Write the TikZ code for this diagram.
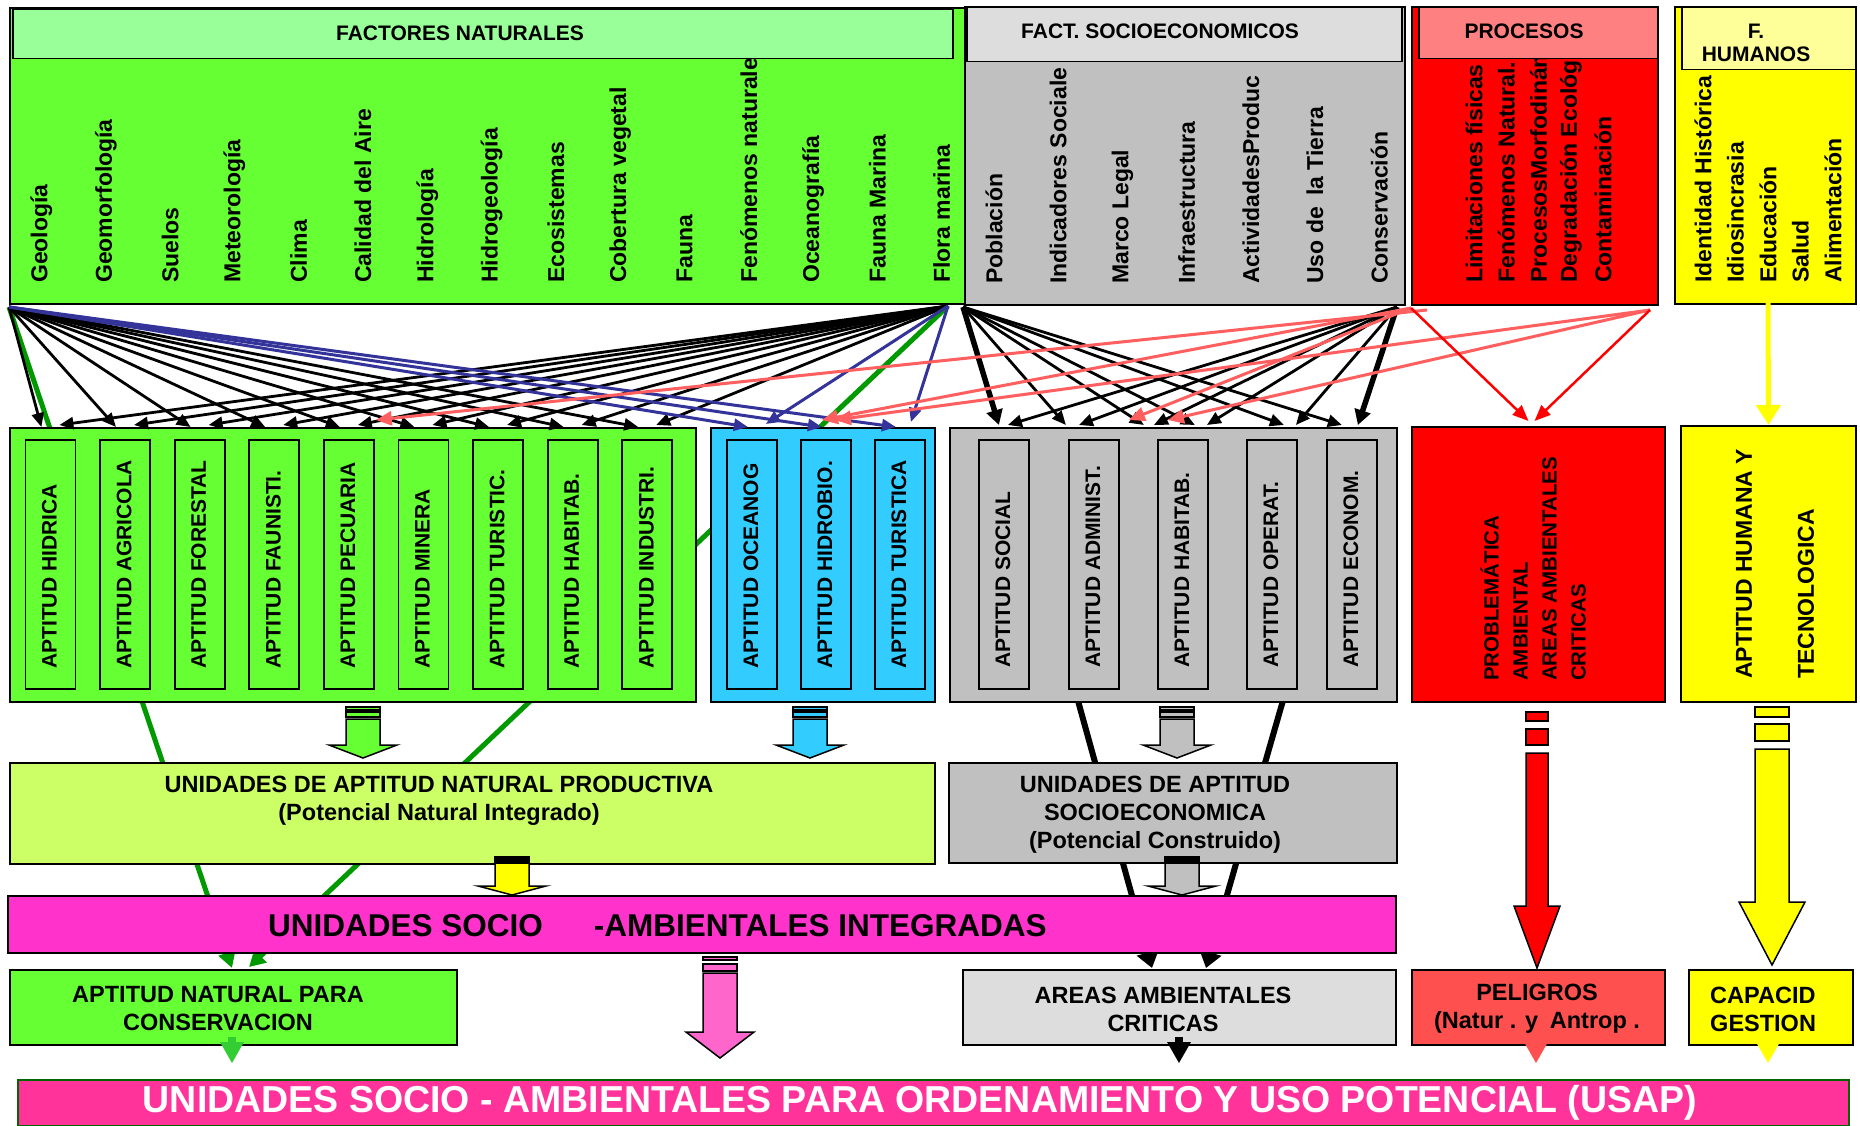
\documentclass[tikz,border=0pt]{standalone}
\usepackage{fontspec}
\setmainfont{Liberation Sans}
\usetikzlibrary{arrows.meta}

\definecolor{natgreen}{HTML}{66FF33}
\definecolor{natlight}{HTML}{99FF99}
\definecolor{socgrey}{HTML}{C0C0C0}
\definecolor{soclight}{HTML}{DDDDDD}
\definecolor{procred}{HTML}{FF0000}
\definecolor{proclight}{HTML}{FF8080}
\definecolor{humyellow}{HTML}{FFFF00}
\definecolor{humlight}{HTML}{FFFF99}
\definecolor{marblue}{HTML}{33CCFF}
\definecolor{unilight}{HTML}{CCFF66}
\definecolor{bandpink}{HTML}{FF33CC}
\definecolor{usappink}{HTML}{FF3399}
\definecolor{peligro}{HTML}{FF5050}
\definecolor{arrowpink}{HTML}{FF66CC}
\definecolor{navy}{HTML}{333399}
\definecolor{linegreen}{HTML}{009900}
\definecolor{tipgreen}{HTML}{33CC33}
\definecolor{salmon}{HTML}{FF5F5F}
\definecolor{usapline}{HTML}{006600}

\tikzset{
  box/.style={draw=black, line width=2pt, anchor=north west, inner sep=0pt},
  headbox/.style={draw=black, line width=1.5pt, anchor=north west, inner sep=0pt},
  inbox/.style={draw=black, line width=1.8pt, anchor=north west, inner sep=0pt, minimum width=50pt, minimum height=249pt},
  factor/.style={rotate=90, anchor=west, inner sep=0pt, font=\fontsize{23}{26}\selectfont\bfseries},
  aptlabel/.style={rotate=90, anchor=west, inner sep=0pt, font=\fontsize{21}{24}\selectfont\bfseries},
  headtext/.style={inner sep=0pt, align=center, font=\fontsize{21}{23}\selectfont\bfseries},
  boxtext/.style={inner sep=0pt, align=center, font=\fontsize{23.5}{28}\selectfont\bfseries},
  conn/.style={line width=2.8pt, -{Triangle[length=14pt,width=12pt]}},
  blockline/.style={draw=black, line width=1.5pt}
}

\begin{document}
\begin{tikzpicture}[x=1pt, y=-1pt]
  \useasboundingbox (0,0) rectangle (1860,1126);
  \fill[white] (0,0) rectangle (1860,1126);

  % start and end points of the long connectors
  \coordinate (natL) at (9,307);
  \coordinate (natR) at (948,306);
  \coordinate (socL) at (963,307);
  \coordinate (socR) at (1397,307);
  \coordinate (procA) at (1411,308);
  \coordinate (procB) at (1427,310);
  \coordinate (procC) at (1650,310);
  \coordinate (humB) at (1768,303);
  \coordinate (consL) at (232,968);
  \coordinate (consR) at (249,967);
  \coordinate (socA) at (1075,690);
  \coordinate (socB) at (1286,690);
  \coordinate (areaL) at (1152,968);
  \coordinate (areaR) at (1206,968);

  % long lines behind the boxes
  \draw[linegreen, line width=5pt, -{Triangle[length=16pt,width=17pt]}] (natL) -- (consL);
  \draw[linegreen, line width=5pt, -{Triangle[length=16pt,width=17pt]}] (natR) -- (consR);
  \draw[black, line width=6pt, -{Triangle[length=16pt,width=22pt]}] (socA) -- (areaL);
  \draw[black, line width=6pt, -{Triangle[length=16pt,width=22pt]}] (socB) -- (areaR);

  % factor panels
  \node[box, fill=natgreen, minimum width=955pt, minimum height=296pt] (natural) at (9,7) {};
  \node[box, fill=socgrey, minimum width=440pt, minimum height=298pt] (social) at (964,6) {};
  \node[box, fill=procred, minimum width=246pt, minimum height=298pt] (procesos) at (1411,6) {};
  \node[box, fill=humyellow, minimum width=181pt, minimum height=297pt] (humanos) at (1674,6) {};

  \foreach \name [count=\i from 0] in {Geología, Geomorfología, Suelos, Meteorología, Clima, Calidad del Aire, Hidrología, Hidrogeología, Ecosistemas, Cobertura vegetal, Fauna, Fenómenos naturale, Oceanografía, Fauna Marina, Flora marina}
    \node[factor] (fn\i) at (41.5+64.3*\i, 283) {\name};
  \foreach \name [count=\i from 0] in {Población, Indicadores Sociale, Marco Legal, Infraestructura, ActividadesProduc, Uso de\enspace la Tierra, Conservación}
    \node[factor] (fs\i) at (994+64.2*\i, 284) {\name};
  \foreach \name [count=\i from 0] in {Limitaciones físicas, Fenómenos Natural., ProcesosMorfodinám, Degradación Ecológ., Contaminación}
    \node[factor] (fp\i) at (1474+32.25*\i, 283) {\name};
  \foreach \name [count=\i from 0] in {Identidad Histórica, Idiosincrasia, Educación, Salud, Alimentación}
    \node[factor] (fh\i) at (1703+32.5*\i, 283) {\name};

  \node[headbox, fill=natlight, minimum width=940pt, minimum height=49pt] (natHead) at (12,9) {};
  \node[headbox, fill=soclight, minimum width=435pt, minimum height=54pt] (socHead) at (966,7) {};
  \node[headbox, fill=proclight, minimum width=239pt, minimum height=51pt] (procHead) at (1418,7) {};
  \node[headbox, fill=humlight, minimum width=174pt, minimum height=62pt] (humHead) at (1681,7) {};
  \node[headtext] (natTitle) at (460,33) {FACTORES NATURALES};
  \node[headtext] (socTitle) at (1160,31) {FACT. SOCIOECONOMICOS};
  \node[headtext] (procTitle) at (1524,31) {PROCESOS};
  \node[headtext] (humTitle) at (1756,43) {F.\\HUMANOS};

  % aptitude panels
  \node[box, fill=natgreen, minimum width=686pt, minimum height=274pt] (aptnat) at (9,427) {};
  \node[box, fill=marblue, minimum width=224pt, minimum height=274pt] (aptmar) at (710,427) {};
  \node[box, fill=socgrey, minimum width=447pt, minimum height=274pt] (aptsoc) at (949,427) {};
  \node[box, fill=procred, minimum width=253pt, minimum height=275pt] (prob) at (1411,426) {};
  \node[box, fill=humyellow, minimum width=175pt, minimum height=276pt] (humapt) at (1680,425) {};

  \foreach \name [count=\i] in {APTITUD HIDRICA, APTITUD AGRICOLA, APTITUD FORESTAL, APTITUD FAUNISTI., APTITUD PECUARIA, APTITUD MINERA, APTITUD TURISTIC., APTITUD HABITAB., APTITUD INDUSTRI.} {
    \node[inbox, fill=natgreen] (an\i) at (24.5+74.6*\i-74.6, 439) {};
    \node[aptlabel] (anl\i) at (49.5+74.6*\i-74.6, 669) {\name};
  }
  \foreach \name [count=\i] in {APTITUD OCEANOG, APTITUD HIDROBIO., APTITUD TURISTICA} {
    \node[inbox, fill=marblue] (ab\i) at (726+74*\i-74, 439) {};
    \node[aptlabel] (abl\i) at (751+74*\i-74, 669) {\name};
  }
  \foreach \x/\name [count=\i] in {978/APTITUD SOCIAL, 1068/APTITUD ADMINIST., 1157/APTITUD HABITAB., 1246/APTITUD OPERAT., 1326/APTITUD ECONOM.} {
    \node[inbox, fill=socgrey] (as\i) at (\x, 439) {};
    \node[aptlabel] (asl\i) at (\x+25, 668) {\name};
  }
  \node[rotate=90, anchor=west, inner sep=0pt, align=left, font=\fontsize{20.5}{29}\selectfont\bfseries] (probText) at (1533,681) {PROBLEMÁTICA\\AMBIENTAL\\AREAS AMBIENTALES\\CRITICAS};
  \node[rotate=90, anchor=west, inner sep=0pt, align=left, font=\fontsize{23}{62}\selectfont\bfseries] (humText) at (1775,679) {APTITUD HUMANA Y\\TECNOLOGICA};

  % units
  \node[box, fill=unilight, minimum width=925pt, minimum height=101pt] (uninat) at (9,762) {};
  \node[box, fill=socgrey, minimum width=448pt, minimum height=100pt] (unisoc) at (948,762) {};
  \node[box, fill=bandpink, minimum width=1388pt, minimum height=57pt] (banda) at (7,895) {};
  \node[box, fill=natgreen, minimum width=447pt, minimum height=75pt] (cons) at (9,969) {};
  \node[box, fill=soclight, minimum width=433pt, minimum height=75pt] (areas) at (962,969) {};
  \node[box, fill=peligro, minimum width=253pt, minimum height=75pt] (peligros) at (1411,969) {};
  \node[box, fill=humyellow, minimum width=164pt, minimum height=75pt] (capacid) at (1688,969) {};
  \node[box, draw=usapline, fill=usappink, minimum width=1831pt, minimum height=46pt] (usap) at (17,1079) {};

  \node[boxtext] (uninatText) at (439,801) {UNIDADES DE APTITUD NATURAL PRODUCTIVA\\(Potencial Natural Integrado)};
  \node[boxtext] (unisocText) at (1155,815) {UNIDADES DE APTITUD\\SOCIOECONOMICA\\(Potencial Construido)};
  \node[anchor=west, inner sep=0pt, font=\fontsize{31.5}{34}\selectfont\bfseries] (bandaText) at (268,926) {UNIDADES SOCIO\hspace*{51pt}-AMBIENTALES INTEGRADAS};
  \node[boxtext] (consText) at (218,1009) {APTITUD NATURAL PARA\\CONSERVACION};
  \node[boxtext] (areasText) at (1163,1009) {AREAS AMBIENTALES\\CRITICAS};
  \node[boxtext] (peligrosText) at (1537,1009) {PELIGROS\\(Natur . y\enspace Antrop .};
  \node[boxtext, anchor=west, align=left] (capacidText) at (1710,1009) {CAPACID\\GESTION};
  \node[inner sep=0pt, text=white, font=\fontsize{37.5}{40}\selectfont\bfseries] (usapText) at (920,1103) {UNIDADES SOCIO - AMBIENTALES PARA ORDENAMIENTO Y USO POTENCIAL (USAP)};

  % connectors from the factors
  \foreach \i in {1,...,9} {
    \draw[conn] (natL) -- ([xshift=-9pt,yshift=12pt]an\i.north);
    \draw[conn] (natR) -- ([xshift=9pt,yshift=14pt]an\i.north);
  }
  \foreach \i in {1,2,3}
    \draw[conn, navy, line width=3pt] (natL) -- ([xshift=-4pt,yshift=12pt]ab\i.north);
  \draw[conn, navy, line width=3pt] (natR) -- ([xshift=14pt,yshift=15pt]ab1.north);
  \draw[conn, navy, line width=3pt] (natR) -- ([xshift=11pt,yshift=17pt]ab3.north);

  \draw[black, line width=5.5pt, -{Triangle[length=15pt,width=16pt]}] (socL) -- ([xshift=-5pt,yshift=14pt]as1.north);
  \draw[black, line width=5.5pt, -{Triangle[length=15pt,width=16pt]}] (socR) -- ([xshift=6pt,yshift=14pt]as5.north);
  \foreach \i/\d in {2/-28pt, 3/-39pt, 3/12pt, 4/12pt, 5/-10pt}
    \draw[conn] (socL) -- ([xshift=\d,yshift=14pt]as\i.north);
  \foreach \i/\d in {1/4pt, 2/-15pt, 3/-29pt, 3/24pt, 4/24pt}
    \draw[conn] (socR) -- ([xshift=\d,yshift=14pt]as\i.north);

  \draw[conn, salmon, line width=3pt, -{Triangle[length=16pt,width=14pt]}] (procB) -- ([xshift=27pt,yshift=19pt]an5.north);
  \draw[conn, salmon, line width=3pt, -{Triangle[length=16pt,width=14pt]}] (procA) -- ([xshift=-4pt,yshift=19pt]ab2.north);
  \draw[conn, salmon, line width=3pt, -{Triangle[length=16pt,width=14pt]}] (procC) -- ([xshift=9pt,yshift=19pt]ab2.north);
  \draw[conn, salmon, line width=3pt, -{Triangle[length=16pt,width=14pt]}] (procA) -- ([xshift=-54pt,yshift=19pt]as3.north);
  \draw[conn, salmon, line width=3pt, -{Triangle[length=16pt,width=14pt]}] (procC) -- ([xshift=-15pt,yshift=19pt]as3.north);
  \draw[conn, procred, line width=2.5pt, -{Triangle[length=16pt,width=13pt]}] (procA) -- ([xshift=-10pt,yshift=5pt]prob.north);
  \draw[conn, procred, line width=2.5pt, -{Triangle[length=16pt,width=13pt]}] (procC) -- ([xshift=-4pt,yshift=5pt]prob.north);
  \draw[humyellow, line width=5pt, -{Triangle[length=20pt,width=24pt]}] (humB) -- (humapt.north);

  % striped block arrows
  \foreach \x/\hs/\hh/\ya/\yb/\yc/\yd/\ye/\yh/\yt/\col in {
      363/17/34/707/710/712/717/719/745/758/natgreen,
      810/17/34/707/710/712/717/719/745/758/marblue,
      1177/17/34/707/710/712/717/719/745/758/socgrey,
      512/17/34/857/859/860/862/863/886/895/humyellow,
      1182/17/34/857/859/860/862/863/886/895/socgrey,
      720/17/34/957/960/964/971/973/1032/1058/arrowpink,
      1537/11/23/712/721/729/745/753/906/968/procred,
      1772/17/33/707/717/724/741/749/902/965/humyellow} {
    \draw[blockline, fill=\col] (\x-\hs,\ya) rectangle (\x+\hs,\yb);
    \draw[blockline, fill=\col] (\x-\hs,\yc) rectangle (\x+\hs,\yd);
    \draw[blockline, fill=\col] (\x-\hs,\ye) -- (\x+\hs,\ye) -- (\x+\hs,\yh) -- (\x+\hh,\yh) -- (\x,\yt) -- (\x-\hh,\yh) -- (\x-\hs,\yh) -- cycle;
  }
  \foreach \x/\col in {232/tipgreen, 1179/black, 1536/peligro, 1768/humyellow} {
    \fill[\col] (\x-4,1037) rectangle (\x+4,1042);
    \fill[\col] (\x-12,1042) -- (\x+12,1042) -- (\x,1063) -- cycle;
  }
\end{tikzpicture}
\end{document}
